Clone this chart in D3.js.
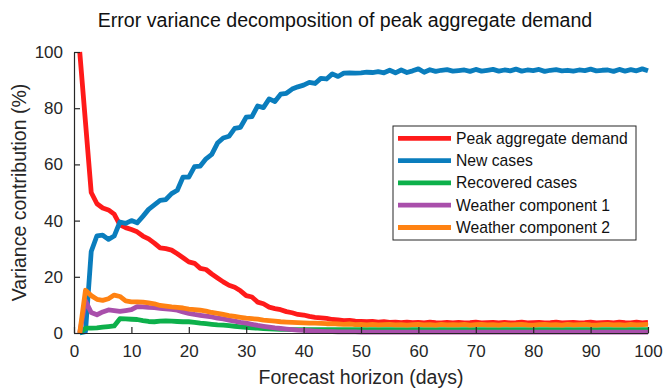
<!DOCTYPE html>
<html lang="en">
<head>
    <meta charset="UTF-8">
    <title>Error variance decomposition</title>
    <style>
        body { margin: 0; background: #fff; }
        svg { display: block; font-family: "Liberation Sans", Arial, sans-serif; }
    </style>
</head>
<body>
<svg></svg>
<script src="https://d3js.org/d3.v7.min.js"></script>
<script>
    var days = d3.range(1, 101);

    var peakDemand = [100, 75, 50, 46, 44.5, 43.8, 42.3, 38.5, 37.5, 36.8,
        36, 34.5, 33.5, 32, 30.3, 30, 29.5, 28.2, 26.8, 25.3,
        24.8, 23, 22.6, 21, 19.6, 18.2, 17, 16.3, 15, 13.3,
        12.8, 11, 10.4, 9.2, 8.7, 8.3, 7.6, 7.2, 6.6, 6.4,
        5.9, 5.6, 5.4, 5.2, 4.8, 4.7, 4.4, 4.5, 4.2, 4.1,
        4.0, 4.1, 3.9, 4.0, 3.8, 3.9, 3.7, 3.9, 3.7, 3.8,
        3.6, 3.9, 3.7, 3.6, 3.8, 3.6, 3.8, 3.6, 3.7, 3.9,
        3.6, 3.7, 3.8, 3.6, 3.8, 3.6, 3.7, 3.9, 3.6, 3.7,
        3.8, 3.6, 3.7, 3.9, 3.6, 3.7, 3.8, 3.6, 3.7, 3.9,
        3.6, 3.7, 3.8, 3.6, 3.9, 3.7, 3.6, 3.9, 3.6, 3.8];

    var newCases = [0, 0.5, 29, 34.6, 34.8, 33.3, 34.5, 39.5, 39, 40,
        39.2, 41.5, 44, 45.6, 47.2, 47.5, 49.6, 50.8, 55.5, 55.5,
        59.2, 59.4, 62, 63.6, 67.6, 69.4, 70, 72.8, 73.2, 76.8,
        77, 80.8, 80.2, 83.3, 82.4, 85, 85.3, 86.8, 87.6, 88.2,
        89.2, 88.8, 90.6, 90.4, 92.2, 91.3, 92.5, 92.6, 92.5, 92.6,
        92.8, 92.7, 93.0, 92.6, 93.5, 92.6, 93.6, 92.7, 93.3, 94.0,
        92.8, 93.7, 93.1, 93.5, 93.7, 93.2, 93.4, 93.6, 93.1, 93.8,
        93.2, 93.5, 93.8, 93.2, 93.6, 93.3, 93.9, 93.2, 93.6, 93.4,
        93.8, 93.1, 93.5, 93.7, 93.3, 93.5, 93.2, 93.6, 93.4, 93.9,
        93.3, 93.5, 93.6, 93.1, 93.8, 93.2, 93.7, 93.3, 94.0, 93.3];

    var recovered = [0, 1.7, 1.7, 1.8, 2.1, 2.3, 2.5, 5.1, 5, 4.9,
        4.8, 4.4, 4.1, 4.0, 4.2, 4.3, 4.2, 4.1, 4.0, 4.0,
        3.8, 3.5, 3.3, 3.1, 2.9, 2.8, 2.6, 2.4, 2.2, 2.0,
        1.8, 1.7, 1.6, 1.5, 1.4, 1.3, 1.3, 1.2, 1.2, 1.2,
        1.2, 1.2, 1.2, 1.2, 1.2, 1.2, 1.2, 1.2, 1.2, 1.2,
        1.2, 1.2, 1.2, 1.2, 1.2, 1.2, 1.2, 1.2, 1.2, 1.2,
        1.2, 1.2, 1.2, 1.2, 1.2, 1.2, 1.2, 1.2, 1.2, 1.2,
        1.2, 1.2, 1.2, 1.2, 1.2, 1.2, 1.2, 1.2, 1.2, 1.2,
        1.2, 1.2, 1.2, 1.2, 1.2, 1.2, 1.2, 1.2, 1.2, 1.2,
        1.2, 1.2, 1.2, 1.2, 1.2, 1.2, 1.2, 1.2, 1.2, 1.2];

    var weather1 = [0, 11.5, 7.3, 6.5, 7.5, 8.2, 8, 7.7, 8, 8.3,
        9.4, 9.3, 9.1, 9, 8.8, 8.6, 8.4, 8.1, 7.5, 7,
        6.6, 6.3, 6, 5.7, 5.3, 5, 4.6, 4.2, 3.8, 3.5,
        3.1, 2.7, 2.4, 2.1, 1.8, 1.6, 1.4, 1.2, 1.0, 0.9,
        0.8, 0.7, 0.6, 0.5, 0.5, 0.4, 0.4, 0.4, 0.4, 0.3,
        0.3, 0.3, 0.3, 0.3, 0.3, 0.3, 0.3, 0.3, 0.3, 0.3,
        0.3, 0.3, 0.3, 0.3, 0.3, 0.3, 0.3, 0.3, 0.3, 0.3,
        0.3, 0.3, 0.3, 0.3, 0.3, 0.3, 0.3, 0.3, 0.3, 0.3,
        0.3, 0.3, 0.3, 0.3, 0.3, 0.3, 0.3, 0.3, 0.3, 0.3,
        0.3, 0.3, 0.3, 0.3, 0.3, 0.3, 0.3, 0.3, 0.3, 0.3];

    var weather2 = [0, 15.2, 13.3, 12, 11.6, 12.2, 13.5, 13, 11.4, 11.1,
        11.1, 11, 10.7, 10.4, 9.8, 9.6, 9.3, 9.1, 8.9, 8.5,
        8.3, 8.1, 7.8, 7.3, 7, 6.6, 6.2, 5.9, 5.6, 5.3,
        5.1, 4.9, 4.6, 4.4, 4.2, 4.0, 3.9, 3.8, 3.7, 3.6,
        3.5, 3.5, 3.4, 3.3, 3.3, 3.2, 3.1, 3.2, 3.0, 3.1,
        2.9, 3.1, 2.9, 3.0, 3.1, 2.9, 3.0, 2.8, 3.0, 3.1,
        2.9, 3.0, 2.8, 3.1, 2.9, 3.0, 2.9, 3.1, 2.8, 3.0,
        3.1, 2.9, 3.0, 2.8, 3.1, 2.9, 3.0, 3.1, 2.9, 2.8,
        3.0, 3.1, 2.9, 3.0, 2.8, 3.1, 2.9, 3.0, 3.1, 2.9,
        2.8, 3.0, 3.1, 2.9, 3.0, 2.8, 3.1, 2.9, 3.0, 3.1];

    var seriesNames = ["Peak aggregate demand", "New cases", "Recovered cases", "Weather component 1", "Weather component 2"];
    var seriesColors = ["#ff1a1a", "#0a7dbd", "#0db04b", "#a94fab", "#ff8212"];
    var xTicks = [0, 10, 20, 30, 40, 50, 60, 70, 80, 90, 100];
    var yTicks = [0, 20, 40, 60, 80, 100];

    var width = 664, height = 388;
    var plotLeft = 74, plotRight = 648, plotTop = 52, plotBottom = 333;

    var svg = d3.select("svg").attr("width", width).attr("height", height);

    var x = d3.scaleLinear().domain([0, 100]).range([plotLeft, plotRight]);
    var y = d3.scaleLinear().domain([0, 100]).range([plotBottom, plotTop]);

    var allSeries = [peakDemand, newCases, recovered, weather1, weather2];

    var line = d3.line()
        .x(function (d, i) { return x(days[i]); })
        .y(function (d) { return y(d); });

    svg.append("g").selectAll("path")
        .data(allSeries)
        .enter().append("path")
        .attr("d", line)
        .attr("fill", "none")
        .attr("stroke", function (d, i) { return seriesColors[i]; })
        .attr("stroke-width", 4.8)
        .attr("stroke-linejoin", "round");

    // axes, MATLAB style: ticks pointing inward
    var xAxis = d3.axisBottom(x).tickValues(xTicks).tickSizeInner(-6).tickSizeOuter(0).tickPadding(12);
    var yAxis = d3.axisLeft(y).tickValues(yTicks).tickSizeInner(-6).tickSizeOuter(0).tickPadding(11);

    var gx = svg.append("g").attr("transform", "translate(0," + plotBottom + ")").call(xAxis);
    var gy = svg.append("g").attr("transform", "translate(" + plotLeft + ",0)").call(yAxis);

    [gx, gy].forEach(function (g) {
        g.selectAll("path, line").attr("stroke", "#262626").attr("stroke-width", 1.2);
        g.selectAll("text").attr("fill", "#262626").style("font-size", "17px")
            .style("font-family", "Liberation Sans, Arial, sans-serif");
    });

    svg.append("text")
        .attr("x", 345).attr("y", 27)
        .attr("text-anchor", "middle")
        .style("font-size", "19.6px")
        .attr("fill", "#111")
        .text("Error variance decomposition of peak aggregate demand");

    svg.append("text")
        .attr("x", (plotLeft + plotRight) / 2).attr("y", 384)
        .attr("text-anchor", "middle")
        .style("font-size", "19.5px")
        .attr("fill", "#262626")
        .text("Forecast horizon (days)");

    svg.append("text")
        .attr("transform", "translate(26," + ((plotTop + plotBottom) / 2) + ") rotate(-90)")
        .attr("text-anchor", "middle")
        .style("font-size", "19.5px")
        .attr("fill", "#262626")
        .text("Variance contribution (%)");

    // legend
    var legend = svg.append("g").attr("transform", "translate(393,126)");
    legend.append("rect")
        .attr("width", 243).attr("height", 114)
        .attr("fill", "#fff")
        .attr("stroke", "#262626")
        .attr("stroke-width", 1);

    var items = legend.selectAll("g.item")
        .data(seriesNames)
        .enter().append("g")
        .attr("transform", function (d, i) { return "translate(0," + (12.3 + i * 22.3) + ")"; });

    items.append("line")
        .attr("x1", 5).attr("x2", 58)
        .attr("stroke", function (d, i) { return seriesColors[i]; })
        .attr("stroke-width", 4.8);

    items.append("text")
        .attr("x", 63).attr("dy", "0.35em")
        .style("font-size", "15.7px")
        .attr("fill", "#111")
        .text(function (d) { return d; });
</script>
</body>
</html>
